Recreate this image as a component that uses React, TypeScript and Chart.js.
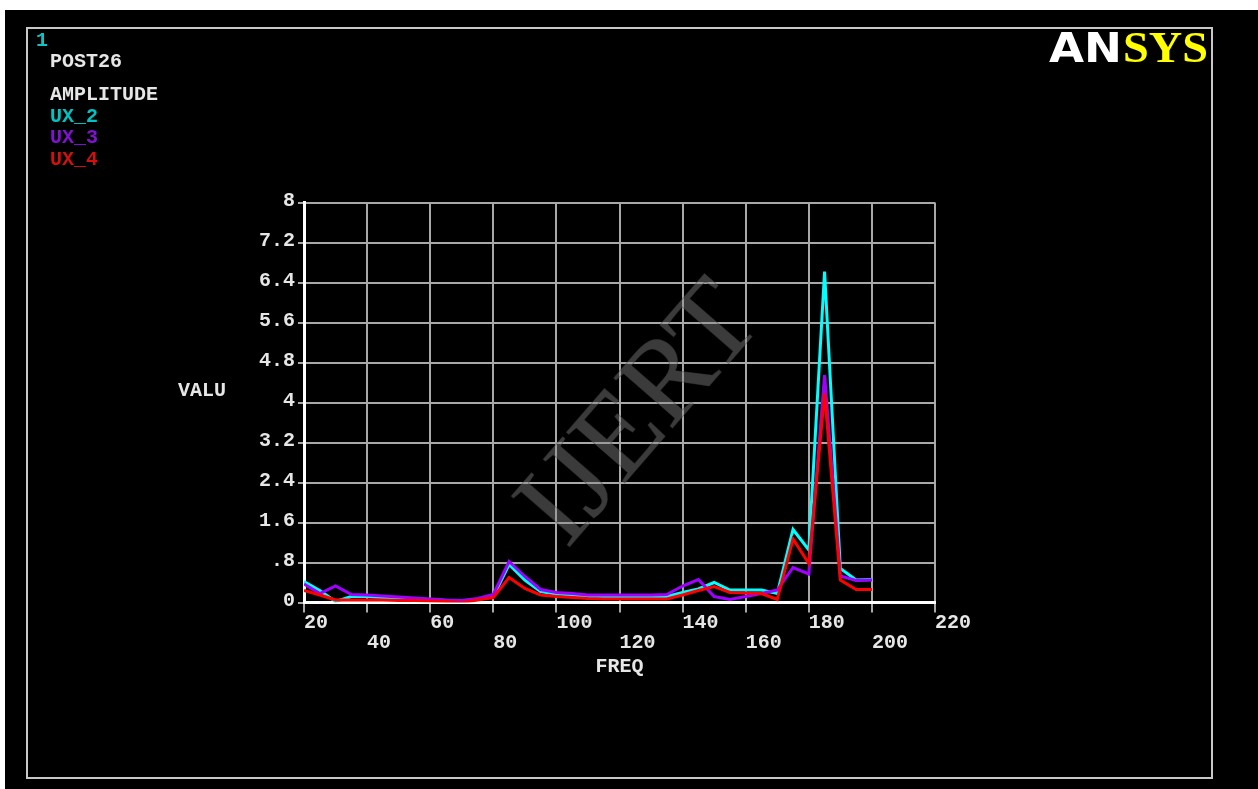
import React, { useEffect, useRef } from "react";
import { Chart, registerables } from "chart.js";

Chart.register(...registerables);

// ---- data ----
const freq = [20, 25, 30, 35, 40, 45, 50, 55, 60, 65, 70, 75, 80, 85, 90, 95, 100, 105, 110, 115, 120, 125, 130, 135, 140, 145, 150, 155, 160, 165, 170, 175, 180, 185, 190, 195, 200];
const ux2 = [0.42, 0.24, 0.02, 0.12, 0.12, 0.1, 0.08, 0.07, 0.06, 0.04, 0.03, 0.06, 0.12, 0.76, 0.45, 0.22, 0.17, 0.15, 0.12, 0.12, 0.12, 0.12, 0.12, 0.12, 0.2, 0.27, 0.4, 0.25, 0.25, 0.25, 0.18, 1.46, 1.05, 6.62, 0.68, 0.45, 0.46];
const ux3 = [0.37, 0.18, 0.33, 0.16, 0.15, 0.13, 0.11, 0.09, 0.07, 0.05, 0.04, 0.08, 0.16, 0.82, 0.52, 0.26, 0.2, 0.18, 0.15, 0.15, 0.15, 0.15, 0.15, 0.16, 0.33, 0.46, 0.12, 0.06, 0.12, 0.18, 0.25, 0.7, 0.57, 4.55, 0.53, 0.44, 0.45];
const ux4 = [0.24, 0.15, 0.05, 0.05, 0.05, 0.05, 0.04, 0.04, 0.03, 0.02, 0.0, 0.05, 0.1, 0.5, 0.28, 0.15, 0.12, 0.1, 0.08, 0.07, 0.07, 0.07, 0.07, 0.07, 0.15, 0.24, 0.32, 0.2, 0.19, 0.18, 0.06, 1.27, 0.78, 4.18, 0.45, 0.26, 0.26];

const seriesNames = ["UX_2", "UX_3", "UX_4"];
const lineColors = ["#00ffff", "#a000ff", "#ff0000"];
const legendColors = ["#00c4c4", "#8212d2", "#d21010"];

const xTicks = [20, 40, 60, 80, 100, 120, 140, 160, 180, 200, 220];
const yTicks = [0, 0.8, 1.6, 2.4, 3.2, 4, 4.8, 5.6, 6.4, 7.2, 8];
const yTickLabels = ["0", ".8", "1.6", "2.4", "3.2", "4", "4.8", "5.6", "6.4", "7.2", "8"];

const windowNumber = "1";
const headerTitle = "POST26";
const headerSubtitle = "AMPLITUDE";
const xTitle = "FREQ";
const yTitle = "VALU";
const logoLeft = "AN";
const logoRight = "SYS";
const watermark = "IJERT";

const W = 1258;
const H = 789;
const MONO = "'Liberation Mono', 'DejaVu Sans Mono', monospace";
const TEXT = "#e6e6e6";

const decorPlugin = {
  id: "ansysDecor",
  beforeDraw(chart: any) {
    const ctx = chart.ctx;
    ctx.save();
    ctx.fillStyle = "#ffffff";
    ctx.fillRect(0, 0, W, H);
    ctx.fillStyle = "#000000";
    ctx.fillRect(5, 10, W - 5, H - 10);
    ctx.strokeStyle = "#c8c8c8";
    ctx.lineWidth = 2;
    ctx.strokeRect(27, 28, 1185, 750);
    ctx.restore();
  },
  afterDraw(chart: any) {
    const ctx = chart.ctx;
    const area = chart.chartArea;
    ctx.save();
    ctx.textBaseline = "alphabetic";
    ctx.textAlign = "left";
    ctx.font = `bold 20px ${MONO}`;
    ctx.fillStyle = "#10c4c4";
    ctx.fillText(windowNumber, 36, 46);
    ctx.fillStyle = TEXT;
    ctx.fillText(headerTitle, 50, 67);
    ctx.fillText(headerSubtitle, 50, 100);
    chart.data.datasets.forEach((ds: any, i: number) => {
      ctx.fillStyle = legendColors[i];
      ctx.fillText(ds.label, 50, 121.5 + i * 21.5);
    });
    // axis titles
    ctx.fillStyle = TEXT;
    ctx.fillText(yTitle, 178, 396);
    ctx.textAlign = "center";
    ctx.fillText(xTitle, (area.left + area.right) / 2, 672);

    // logo
    ctx.textAlign = "left";
    ctx.fillStyle = "#ffffff";
    ctx.font = `bold 41px 'DejaVu Sans', 'Liberation Sans', sans-serif`;
    const wAN = ctx.measureText(logoLeft).width;
    ctx.save();
    ctx.translate(1049, 62);
    ctx.scale(73 / wAN, 1);
    ctx.fillText(logoLeft, 0, 0);
    ctx.restore();
    ctx.fillStyle = "#ffff00";
    ctx.font = `bold 45px 'Liberation Serif', 'Times New Roman', serif`;
    const wSYS = ctx.measureText(logoRight).width;
    ctx.save();
    ctx.translate(1123, 62);
    ctx.scale(85 / wSYS, 1);
    ctx.fillText(logoRight, 0, 0);
    ctx.restore();

    // watermark
    ctx.save();
    ctx.translate(642, 416);
    ctx.rotate(-49 * Math.PI / 180);
    ctx.font = `118px 'Liberation Serif', 'Times New Roman', serif`;
    ctx.textAlign = "center";
    ctx.textBaseline = "middle";
    ctx.fillStyle = "rgba(140,140,140,0.42)";
    ctx.strokeStyle = "rgba(60,60,60,0.45)";
    ctx.lineWidth = 1;
    ctx.fillText(watermark, 0, 0);
    ctx.strokeText(watermark, 0, 0);
    ctx.restore();
    ctx.restore();
  },
};

export default function App() {
  const ref = useRef<HTMLCanvasElement | null>(null);

  useEffect(() => {
    document.body.style.margin = "0";
    const canvas = ref.current;
    if (!canvas) return;
    const series = [ux2, ux3, ux4];
    const chart = new Chart(canvas, {
      type: "line",
      data: {
        datasets: series.map((vals, i) => ({
          label: seriesNames[i],
          data: freq.map((f, k) => ({ x: f, y: vals[k] })),
          borderColor: lineColors[i],
          backgroundColor: lineColors[i],
          borderWidth: 3,
          pointRadius: 0,
          tension: 0,
          fill: false,
          order: 3 - i,
        })),
      },
      options: {
        animation: false,
        responsive: false,
        devicePixelRatio: 1,
        events: [],
        layout: { padding: { left: 0, top: 202.5, right: W - 935, bottom: H - 602.5 - 60 } },
        plugins: {
          legend: { display: false },
          tooltip: { enabled: false },
          title: { display: false },
        },
        scales: {
          x: {
            type: "linear",
            min: 20,
            max: 220,
            afterBuildTicks: (scale: any) => {
              scale.ticks = xTicks.map((v) => ({ value: v }));
            },
            afterFit: (scale: any) => {
              scale.height = 60;
            },
            grid: { color: "#a8a8a8", lineWidth: 2, tickLength: 10, drawTicks: true },
            border: { color: "#ffffff", width: 3 },
            ticks: {
              autoSkip: false,
              maxRotation: 0,
              minRotation: 0,
              align: "start",
              padding: 0,
              color: TEXT,
              font: { family: MONO, size: 20, weight: "bold", lineHeight: 1 },
              callback: (_v: any, index: number) =>
                index % 2 === 1 ? ["", String(xTicks[index])] : String(xTicks[index]),
            },
          },
          y: {
            type: "linear",
            min: 0,
            max: 8,
            afterBuildTicks: (scale: any) => {
              scale.ticks = yTicks.map((v) => ({ value: v }));
            },
            afterFit: (scale: any) => {
              scale.width = 304;
            },
            grid: { color: "#a8a8a8", lineWidth: 2, tickLength: 6, drawTicks: true },
            border: { color: "#ffffff", width: 3 },
            ticks: {
              autoSkip: false,
              padding: 3,
              labelOffset: -2,
              color: TEXT,
              font: { family: MONO, size: 20, weight: "bold" },
              callback: (_v: any, index: number) => yTickLabels[index],
            },
          },
        },
      },
      plugins: [decorPlugin],
    } as any);
    return () => chart.destroy();
  }, []);

  return (
    <div style={{ position: "absolute", left: 0, top: 0, width: W, height: H, overflow: "hidden" }}>
      <canvas ref={ref} width={W} height={H} style={{ width: W, height: H, display: "block" }} />
    </div>
  );
}
